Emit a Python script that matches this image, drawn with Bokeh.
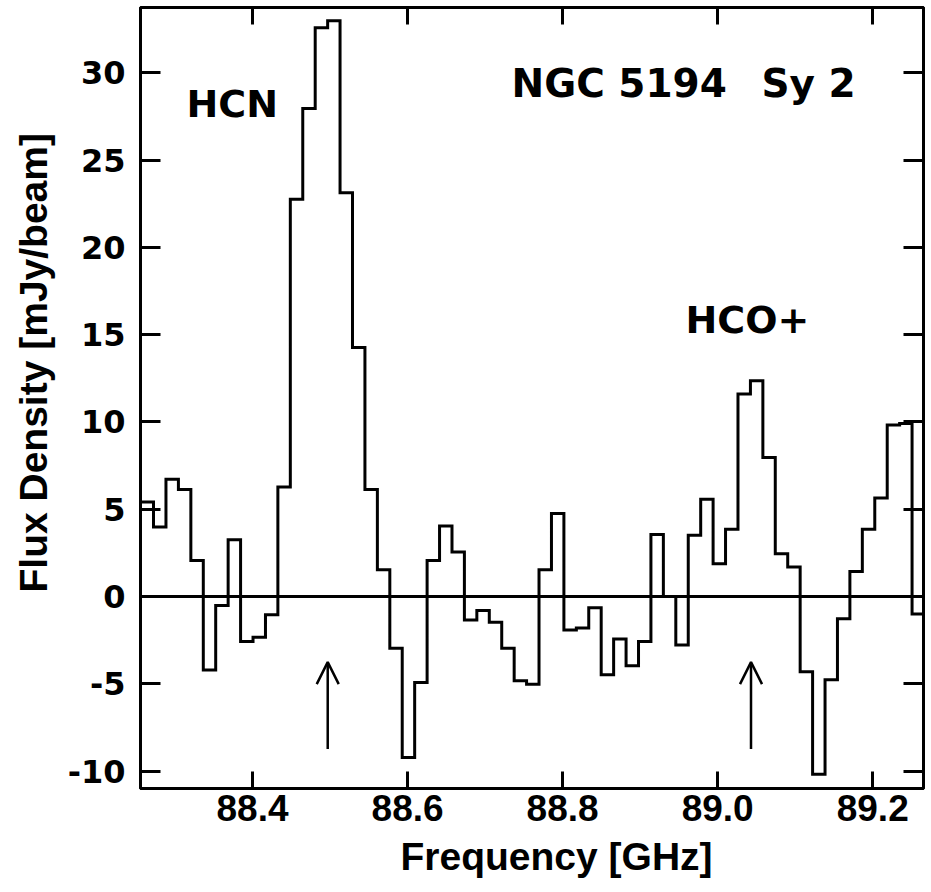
import numpy as np
from bokeh.plotting import figure
from bokeh.models import (Range1d, FixedTicker, LinearAxis, Label, Span, Arrow, OpenHead,
                          Title, CustomJSTickFormatter)
from bokeh.embed import file_html
from bokeh.resources import INLINE

# ---- data ----
freq_ghz = [88.2643, 88.2803, 88.2964, 88.3124, 88.3285, 88.3445, 88.3605, 88.3766,
            88.3926, 88.4087, 88.4247, 88.4407, 88.4568, 88.4728, 88.4889, 88.5049,
            88.5209, 88.5370, 88.5530, 88.5691, 88.5851, 88.6011, 88.6172, 88.6332,
            88.6493, 88.6653, 88.6813, 88.6974, 88.7134, 88.7295, 88.7455, 88.7615,
            88.7776, 88.7936, 88.8097, 88.8257, 88.8417, 88.8578, 88.8738, 88.8899,
            88.9059, 88.9219, 88.9380, 88.9540, 88.9701, 88.9861, 89.0021, 89.0182,
            89.0342, 89.0503, 89.0663, 89.0823, 89.0984, 89.1144, 89.1305, 89.1465,
            89.1625, 89.1786, 89.1946, 89.2107, 89.2267, 89.2427, 89.2588]
flux_mjy = [5.42, 3.98, 6.72, 6.13, 2.07, -4.21, -0.52, 3.26, -2.57, -2.34,
            -1.05, 6.28, 22.76, 27.97, 32.59, 32.99, 23.14, 14.27, 6.13, 1.53,
            -2.97, -9.23, -4.92, 2.07, 4.04, 2.55, -1.34, -0.80, -1.48, -2.97,
            -4.83, -5.02, 1.53, 4.75, -1.92, -1.80, -0.65, -4.48, -2.43, -3.97,
            -2.57, 3.56, 0.0, -2.78, 3.51, 5.57, 1.88, 3.85, 11.61, 12.36,
            7.97, 2.45, 1.69, -4.31, -10.19, -4.77, -1.28, 1.44, 3.85, 5.65,
            9.83, 9.92, -1.0]
x_ticks = [88.4, 88.6, 88.8, 89.0, 89.2]
x_tick_labels = ["88.4", "88.6", "88.8", "89.0", "89.2"]
y_ticks = [-10, -5, 0, 5, 10, 15, 20, 25, 30]
y_tick_labels = ["-10", "-5", "0", "5", "10", "15", "20", "25", "30"]
line_names = ["HCN", "HCO+"]
line_freqs = [88.497, 89.043]
arrow_from, arrow_to = -8.73, -3.76
title_parts = ["NGC 5194", "Sy 2"]
x_title = "Frequency [GHz]"
y_title = "Flux Density [mJy/beam]"

p = figure(width=931, height=892, output_backend="svg", toolbar_location=None,
           x_range=Range1d(88.2555, 89.2655), y_range=Range1d(-11.0, 33.75),
           min_border_left=140, min_border_right=8, min_border_top=7,
           min_border_bottom=104)
p.xgrid.visible = False
p.ygrid.visible = False
p.outline_line_color = "black"
p.outline_line_width = 3
p.background_fill_color = "white"
p.border_fill_color = "white"

blank = CustomJSTickFormatter(code="return ''")


def style_axis(ax, ticks, tick_len, show_labels, font, size):
    ax.ticker = FixedTicker(ticks=ticks)
    ax.minor_tick_line_color = None
    ax.major_tick_in = tick_len
    ax.major_tick_out = 0
    ax.major_tick_line_width = 3
    ax.major_tick_line_color = "black"
    ax.axis_line_width = 3
    ax.axis_line_color = "black"
    ax.axis_label = None
    if show_labels:
        ax.major_label_text_font = font
        ax.major_label_text_font_style = "bold"
        ax.major_label_text_font_size = size
        ax.major_label_text_color = "black"
    else:
        ax.formatter = blank
        ax.major_label_standoff = 0


style_axis(p.xaxis[0], x_ticks, 17, True, "Liberation Sans", "37px")
p.xaxis[0].major_label_overrides = {t: s for t, s in zip(x_ticks, x_tick_labels)}
p.xaxis[0].major_label_standoff = 6
style_axis(p.yaxis[0], y_ticks, 20, True, "DejaVu Sans", "32px")
p.yaxis[0].major_label_overrides = {t: s for t, s in zip(y_ticks, y_tick_labels)}
p.yaxis[0].major_label_standoff = 15

top_ax = LinearAxis()
style_axis(top_ax, x_ticks, 17, False, None, None)
p.add_layout(top_ax, "above")
right_ax = LinearAxis()
style_axis(right_ax, y_ticks, 20, False, None, None)
p.add_layout(right_ax, "right")

# axis titles (as Titles so they can be shifted along the axis)
p.add_layout(Title(text=x_title, align="left", offset=260, standoff=18,
                   text_font="Liberation Sans", text_font_style="bold",
                   text_font_size="39px", text_color="black"), "below")
p.add_layout(Title(text=y_title, align="left", offset=196, standoff=19,
                   text_font="Liberation Sans", text_font_style="bold",
                   text_font_size="39px", text_color="black"), "left")

# zero line
p.add_layout(Span(location=0, dimension="width", line_color="black", line_width=3))

# histogram-style spectrum
c = np.array(freq_ghz)
v = np.array(flux_mjy)
mids = (c[:-1] + c[1:]) / 2
edges = np.concatenate([[c[0] - (c[1] - c[0]) / 2], mids, [c[-1] + (c[-1] - c[-2]) / 2]])
xs = np.repeat(edges, 2)[1:-1]
ys = np.repeat(v, 2)
p.line(xs, ys, line_color="black", line_width=3, line_join="miter")

# arrows marking the line frequencies
for lf in line_freqs:
    p.add_layout(Arrow(end=OpenHead(size=22, line_width=2.5, line_color="black"),
                       x_start=lf, y_start=arrow_from, x_end=lf, y_end=arrow_to,
                       line_width=2.5, line_color="black"))


def add_text(text, x, y, size, font="DejaVu Sans", align="left"):
    p.add_layout(Label(x=x, y=y, x_units="screen", y_units="screen", text=text,
                       text_font=font, text_font_style="bold", text_font_size=size,
                       text_color="black", text_align=align, text_baseline="alphabetic"))


add_text(title_parts[0], 371, 705, "39px")
add_text(title_parts[1], 621, 705, "39px")
add_text(line_names[0], 46, 685, "38px")
add_text(line_names[1], 545, 469, "38px")

open("out.html", "w").write(file_html(p, INLINE))
